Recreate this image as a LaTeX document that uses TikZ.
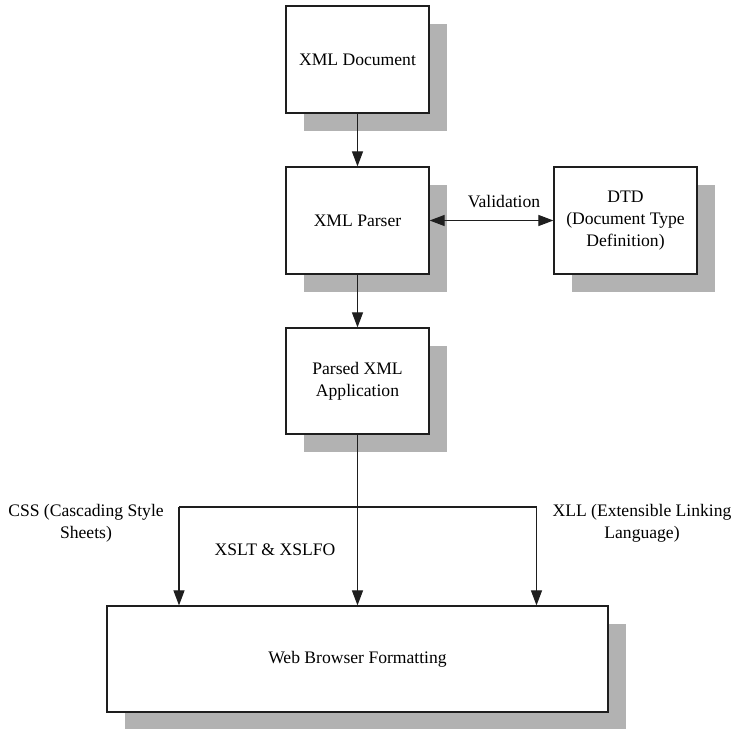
\documentclass[tikz,border=0pt]{standalone}
\usepackage{fontspec}
\setmainfont{Liberation Serif}
\usetikzlibrary{arrows.meta,shadows}
\definecolor{shadowgray}{RGB}{178,178,178}
\definecolor{linecol}{RGB}{30,30,30}
\begin{document}
\begin{tikzpicture}[x=1pt,y=-1pt,
  font=\fontsize{17.6}{22}\selectfont,
  box/.style={draw=linecol, line width=1.2pt, fill=white, minimum width=143pt, minimum height=107pt,
    inner sep=0pt, align=center,
    drop shadow={shadow xshift=18pt, shadow yshift=-18pt, opacity=1, fill=shadowgray}},
  conn/.style={draw=linecol, line width=1.1pt},
  arr/.style={conn, -{Triangle[length=15pt,width=11pt]}},
  lbl/.style={inner sep=0pt, align=center}]
\clip (0,0) rectangle (735,728);
\fill[white] (0,0) rectangle (735,728);

\node[box] (doc) at (357.5,59.5) {XML Document};
\node[box] (parser) at (357.5,220.5) {XML Parser};
\node[box] (dtd) at (625.5,220.5) {DTD\\(Document Type\\Definition)};
\node[box, minimum height=106pt] (parsed) at (357.5,381) {Parsed XML\\Application};
\node[box, minimum width=501pt, minimum height=106pt] (web) at (357.5,659) {Web Browser Formatting};

\coordinate (jl) at (179,507);
\coordinate (jr) at (536.5,507);

\draw[arr] (doc.south) -- (parser.north);
\draw[arr] (parser.south) -- (parsed.north);
\draw[conn, {Triangle[length=15pt,width=11pt]}-{Triangle[length=15pt,width=11pt]}] (parser.east) -- (dtd.west);
\draw[arr] (parsed.south) -- (web.north);
\draw[conn] (jl) -- (jr);
\draw[arr] (jl) -- (jl |- web.north);
\draw[arr] (jr) -- (jr |- web.north);

\node[lbl] (val) at (504,202) {Validation};
\node[lbl] (css) at (86,523) {CSS (Cascading Style\\Sheets)};
\node[lbl] (xll) at (642,523) {XLL (Extensible Linking\\Language)};
\node[lbl] (xslt) at (275,550) {XSLT \& XSLFO};
\end{tikzpicture}
\end{document}
